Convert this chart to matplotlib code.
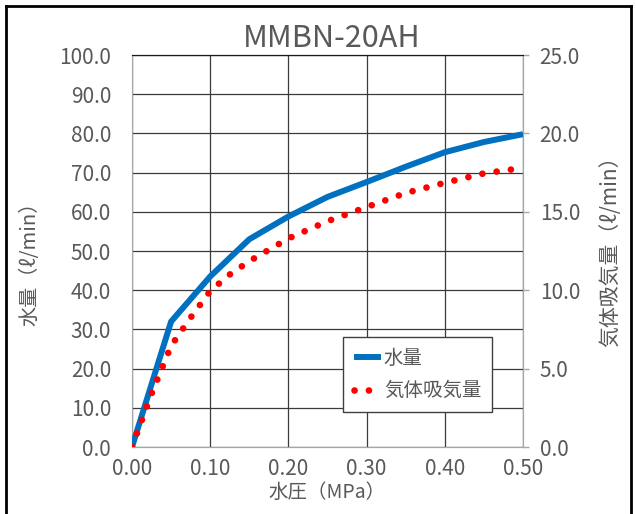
import matplotlib
matplotlib.use("Agg")
import matplotlib.pyplot as plt
from matplotlib.lines import Line2D
from matplotlib.ticker import FormatStrFormatter

plt.rcParams['font.family'] = ['Noto Sans CJK JP', 'DejaVu Sans']

# 水量 (left axis, l/min)
pressure_water = [0.0, 0.05, 0.10, 0.15, 0.20, 0.25, 0.30, 0.35, 0.40, 0.45, 0.50]
water_flow = [0.0, 32.0, 43.5, 53.0, 58.8, 63.8, 67.6, 71.5, 75.2, 77.8, 79.8]

# 気体吸気量 (right axis, l/min)
pressure_gas = [0.0, 0.025, 0.05, 0.075, 0.10, 0.125, 0.15, 0.20, 0.25, 0.30, 0.35, 0.40, 0.45, 0.50]
gas_flow = [0.0, 3.4, 6.45, 8.25, 9.95, 11.0, 11.85, 13.3, 14.4, 15.3, 16.2, 16.85, 17.45, 17.8]

text_col = '#595959'
grid_col = '#3a3a3a'
spine_col = '#a6a6a6'

fig = plt.figure(figsize=(6.36, 5.14), dpi=100)
ax = fig.add_axes([132/636, 1 - 447/514, (523-132)/636, (447-55)/514])
ax2 = ax.twinx()

l1, = ax.plot(pressure_water, water_flow, color='#0070C0', lw=4.3,
              solid_joinstyle='round', solid_capstyle='butt', label='水量', zorder=3)
l2, = ax2.plot(pressure_gas, gas_flow, color='#FF0000', lw=4.8,
               linestyle=(0, (0.01, 2.15)), dash_capstyle='round', label='気体吸気量', zorder=3)

ax.set_xlim(0, 0.5)
ax.set_ylim(0, 100)
ax2.set_ylim(0, 25)
ax.set_xticks([0.0, 0.1, 0.2, 0.3, 0.4, 0.5])
ax.set_yticks(range(0, 101, 10))
ax2.set_yticks(range(0, 26, 5))
ax.xaxis.set_major_formatter(FormatStrFormatter('%.2f'))
ax.yaxis.set_major_formatter(FormatStrFormatter('%.1f'))
ax2.yaxis.set_major_formatter(FormatStrFormatter('%.1f'))

ax.set_axisbelow(True)
ax.grid(True, color=grid_col, lw=0.9)

for s in ['left', 'bottom', 'right']:
    ax.spines[s].set_color(spine_col)
    ax2.spines[s].set_color(spine_col)
ax.spines['top'].set_color('#1a1a1a')
ax2.spines['top'].set_color('#1a1a1a')
ax2.spines['left'].set_visible(False)

ax.tick_params(axis='both', length=0, labelsize=15, labelcolor=text_col)
ax.tick_params(axis='y', pad=15)
ax.tick_params(axis='x', pad=8)
ax2.tick_params(axis='y', length=4, color=spine_col, width=1, labelsize=15,
                labelcolor=text_col, pad=8)

fig.text(0.522, 0.926, 'MMBN-20AH', ha='center', va='center', fontsize=22, color=text_col)
fig.text(0.047, 0.497, '水量（ℓ/min）', rotation=90, ha='center', va='center',
         fontsize=14.5, color=text_col)
fig.text(0.959, 0.52, '気体吸気量（ℓ/min）', rotation=90, ha='center', va='center',
         fontsize=15, color=text_col)
fig.text(0.514, 0.041, '水圧（MPa）', ha='center', va='center', fontsize=14, color=text_col)

leg = ax2.legend(handles=[l1, l2], loc='upper left',
                 bbox_to_anchor=(343/636, 1 - 337/514), bbox_transform=fig.transFigure,
                 fontsize=14, frameon=True, fancybox=False, framealpha=1,
                 edgecolor='#404040', handlelength=1.4, handletextpad=0.15,
                 labelspacing=0.6, borderpad=0.55, borderaxespad=0)
leg.get_frame().set_linewidth(1.0)
for t in leg.get_texts():
    t.set_color(text_col)

# black frame around the picture
for xs, ys in [([5.5/636, 5.5/636], [0, 1 - 5.5/514]),
               ([5.5/636, 630.5/636], [1 - 5.5/514, 1 - 5.5/514]),
               ([630.5/636, 630.5/636], [0, 1 - 5.5/514])]:
    fig.add_artist(Line2D(xs, ys, transform=fig.transFigure, color='black', lw=2))

fig.savefig('out.png', dpi=100)
